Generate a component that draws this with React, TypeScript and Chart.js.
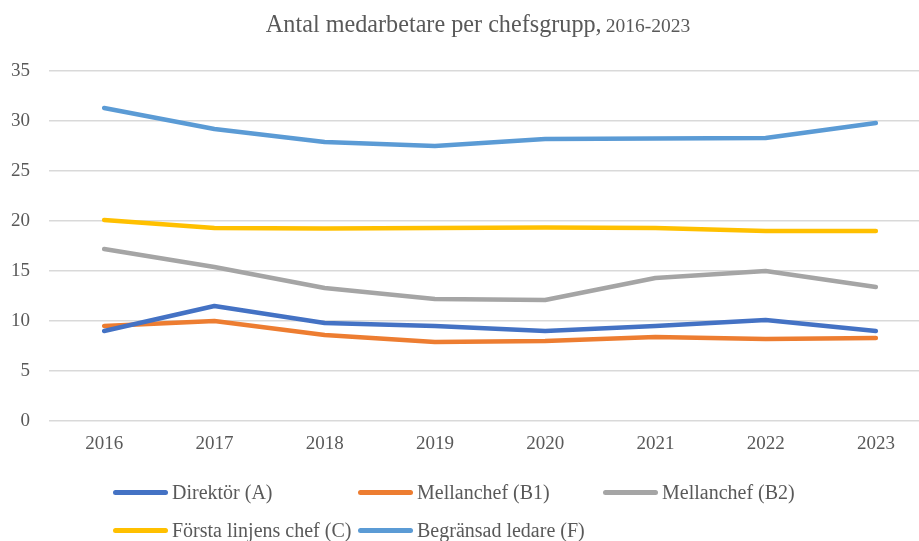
import React, { useEffect, useRef } from "react";
import { Chart, registerables } from "chart.js";

Chart.register(...registerables);

const categories = ["2016", "2017", "2018", "2019", "2020", "2021", "2022", "2023"];
const seriesNames = [
  "Direktör (A)",
  "Mellanchef (B1)",
  "Mellanchef (B2)",
  "Första linjens chef (C)",
  "Begränsad ledare (F)",
];
const direktorA = [9.0, 11.5, 9.8, 9.5, 9.0, 9.5, 10.1, 9.0];
const mellanchefB1 = [9.5, 10.0, 8.6, 7.9, 8.0, 8.4, 8.2, 8.3];
const mellanchefB2 = [17.2, 15.4, 13.3, 12.2, 12.1, 14.3, 15.0, 13.4];
const forstaLinjensC = [20.1, 19.3, 19.25, 19.3, 19.35, 19.3, 19.0, 19.0];
const begransadF = [31.3, 29.2, 27.9, 27.5, 28.2, 28.25, 28.3, 29.8];
const seriesValues = [direktorA, mellanchefB1, mellanchefB2, forstaLinjensC, begransadF];
const seriesColors = ["#4472C4", "#ED7D31", "#A5A5A5", "#FFC000", "#5B9BD5"];
const titleMain = "Antal medarbetare per chefsgrupp,";
const titleYears = "2016-2023";

const FONT = "'Liberation Serif', 'DejaVu Serif', serif";
const TEXT = "#595959";
const CANVAS_W = 931;

export default function App() {
  const ref = useRef<HTMLCanvasElement | null>(null);

  useEffect(() => {
    if (!ref.current) return;
    const chart = new Chart(ref.current, {
      type: "line",
      data: {
        labels: categories,
        datasets: seriesNames.map((name, i) => ({
          label: name,
          data: seriesValues[i],
          borderColor: seriesColors[i],
          backgroundColor: seriesColors[i],
          borderWidth: 4.5,
          pointRadius: 0,
          tension: 0,
          borderCapStyle: "round" as const,
          borderJoinStyle: "round" as const,
          fill: false,
        })),
      },
      options: {
        animation: false,
        responsive: false,
        maintainAspectRatio: false,
        layout: { padding: { top: 71, left: 0, right: 0, bottom: 80 } },
        plugins: {
          legend: { display: false },
          title: { display: false },
          tooltip: { enabled: false },
        },
        scales: {
          x: {
            type: "category",
            offset: true,
            grid: { display: false, drawTicks: false },
            border: { display: false },
            ticks: { color: TEXT, font: { family: FONT, size: 19 }, padding: 12, maxRotation: 0 },
            afterFit: (s: any) => {
              s.height = 40;
            },
          },
          y: {
            min: 0,
            max: 35,
            ticks: { stepSize: 5, color: TEXT, font: { family: FONT, size: 19 }, padding: 19 },
            grid: { color: "#D9D9D9", lineWidth: 1.5, drawTicks: false },
            border: { display: false },
            afterFit: (s: any) => {
              s.width = 49;
            },
          },
        },
      },
    });
    return () => chart.destroy();
  }, []);

  return (
    <div style={{ position: "fixed", left: 0, top: 0, width: 919, height: 541, background: "#fff", overflow: "hidden" }}>
      <canvas
        ref={ref}
        width={CANVAS_W}
        height={541}
        style={{ position: "absolute", left: 0, top: 0, width: CANVAS_W, height: 541 }}
      />
      <div
        style={{
          position: "absolute",
          left: 0,
          top: 9,
          width: 956,
          textAlign: "center",
          fontFamily: FONT,
          color: TEXT,
          whiteSpace: "nowrap",
          lineHeight: "30px",
        }}
      >
        <span style={{ fontSize: 24.2 }}>{titleMain}</span>{" "}
        <span style={{ fontSize: 19.5 }}>{titleYears}</span>
      </div>
      <div
        style={{
          position: "absolute",
          left: 113,
          top: 477,
          display: "grid",
          gridTemplateColumns: "245px 245px 245px",
          rowGap: 8,
          fontFamily: FONT,
          color: TEXT,
          fontSize: 20,
        }}
      >
        {seriesNames.map((name, i) => (
          <div key={name} style={{ display: "flex", alignItems: "center", height: 30, whiteSpace: "nowrap" }}>
            <span
              style={{
                display: "inline-block",
                width: 55,
                height: 5,
                borderRadius: 3,
                background: seriesColors[i],
                marginRight: 4,
              }}
            />
            <span>{name}</span>
          </div>
        ))}
      </div>
    </div>
  );
}
